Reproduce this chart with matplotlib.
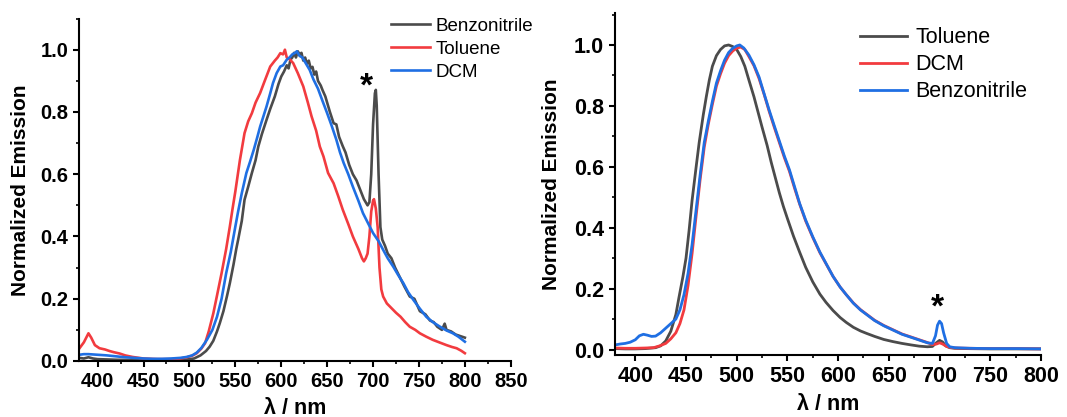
import matplotlib
matplotlib.use("Agg")
import matplotlib.pyplot as plt
from matplotlib.ticker import MultipleLocator

plt.rcParams['font.family'] = ['Liberation Sans', 'DejaVu Sans']

# colours
GRAY = '#4b4b4b'
RED = '#f23b3f'
BLUE = '#1f6fe3'

# ---- left panel data ----
left_benz_x = [380, 385, 390, 395, 400, 410, 420, 440, 460, 480,
               495, 505, 512, 518, 522, 526, 530, 533, 537, 541,
               544, 548, 551, 553, 557, 560, 564, 568, 572, 575,
               579, 584, 588, 593, 597, 600, 603, 606, 608, 610,
               612, 614, 616, 618, 620, 622, 624, 626, 628, 630,
               632, 634, 636, 638, 640, 643, 645, 648, 650, 653,
               657, 660, 663, 667, 670, 674, 678, 682, 686, 690,
               694, 696, 698, 700, 702, 703, 704, 706, 708, 710,
               713, 716, 720, 724, 729, 734, 740, 745, 751, 757,
               762, 766, 770, 775, 778, 780, 785, 790, 795, 800]
left_benz_y = [0.010, 0.008, 0.012, 0.008, 0.006, 0.005, 0.004, 0.003, 0.003, 0.003,
               0.004, 0.008, 0.018, 0.032, 0.046, 0.065, 0.095, 0.121, 0.160, 0.210,
               0.250, 0.310, 0.360, 0.389, 0.450, 0.518, 0.560, 0.604, 0.645, 0.689,
               0.730, 0.775, 0.810, 0.850, 0.890, 0.914, 0.930, 0.950, 0.940, 0.968,
               0.975, 0.990, 0.975, 0.995, 0.985, 0.990, 0.965, 0.975, 0.955, 0.965,
               0.940, 0.945, 0.920, 0.930, 0.900, 0.885, 0.870, 0.850, 0.830, 0.800,
               0.764, 0.760, 0.720, 0.690, 0.670, 0.630, 0.600, 0.580, 0.550, 0.520,
               0.500, 0.510, 0.600, 0.760, 0.860, 0.871, 0.820, 0.600, 0.430, 0.390,
               0.370, 0.345, 0.330, 0.300, 0.270, 0.240, 0.207, 0.200, 0.160, 0.150,
               0.130, 0.125, 0.110, 0.100, 0.120, 0.100, 0.095, 0.085, 0.080, 0.075]

left_tol_x = [380, 385, 390, 393, 397, 402, 408, 413, 418, 424,
              430, 438, 450, 465, 480, 490, 497, 503, 508, 513,
              517, 521, 526, 530, 535, 540, 544, 547, 550, 555,
              560, 564, 568, 572, 577, 582, 588, 593, 596, 599,
              602, 604, 606, 609, 613, 618, 624, 629, 633, 638,
              642, 646, 651, 657, 662, 667, 673, 678, 684, 688,
              690, 692, 694, 696, 698, 700, 701, 703, 705, 707,
              709, 711, 715, 720, 725, 730, 735, 740, 746, 751,
              758, 765, 772, 780, 786, 791, 796, 800]
left_tol_y = [0.040, 0.060, 0.089, 0.075, 0.051, 0.041, 0.037, 0.032, 0.028, 0.024,
              0.018, 0.013, 0.008, 0.006, 0.006, 0.008, 0.012, 0.017, 0.025, 0.040,
              0.057, 0.095, 0.153, 0.210, 0.282, 0.360, 0.432, 0.490, 0.545, 0.646,
              0.732, 0.770, 0.796, 0.830, 0.861, 0.900, 0.946, 0.965, 0.975, 0.989,
              0.985, 1.000, 0.975, 0.970, 0.957, 0.925, 0.882, 0.830, 0.786, 0.740,
              0.689, 0.657, 0.604, 0.571, 0.530, 0.486, 0.440, 0.400, 0.360, 0.330,
              0.320, 0.330, 0.345, 0.400, 0.480, 0.515, 0.520, 0.490, 0.430, 0.300,
              0.230, 0.207, 0.185, 0.170, 0.155, 0.142, 0.125, 0.110, 0.100, 0.089,
              0.078, 0.068, 0.060, 0.051, 0.045, 0.041, 0.033, 0.025]

left_dcm_x = [380, 385, 390, 395, 400, 410, 420, 430, 440, 450,
              460, 470, 480, 490, 497, 503, 508, 513, 519, 525,
              530, 535, 540, 545, 550, 553, 557, 562, 566, 570,
              574, 577, 581, 584, 588, 591, 595, 599, 602, 606,
              609, 612, 615, 617, 620, 623, 627, 631, 635, 640,
              645, 650, 655, 660, 664, 668, 673, 678, 684, 689,
              695, 700, 706, 711, 716, 722, 727, 733, 738, 744,
              751, 758, 765, 773, 780, 787, 793, 800]
left_dcm_y = [0.020, 0.022, 0.022, 0.021, 0.020, 0.018, 0.015, 0.012, 0.010, 0.008,
              0.007, 0.007, 0.008, 0.010, 0.013, 0.018, 0.027, 0.042, 0.068, 0.100,
              0.142, 0.200, 0.282, 0.350, 0.432, 0.480, 0.539, 0.604, 0.640, 0.678,
              0.720, 0.753, 0.790, 0.818, 0.860, 0.893, 0.925, 0.946, 0.950, 0.968,
              0.975, 0.985, 0.990, 0.995, 0.980, 0.975, 0.955, 0.935, 0.905, 0.875,
              0.835, 0.796, 0.755, 0.711, 0.670, 0.636, 0.600, 0.560, 0.515, 0.475,
              0.440, 0.411, 0.385, 0.357, 0.330, 0.303, 0.278, 0.250, 0.222, 0.196,
              0.168, 0.142, 0.125, 0.110, 0.098, 0.089, 0.078, 0.062]

# ---- right panel data ----
right_tol_x = [380, 390, 400, 410, 420, 425, 430, 435, 440, 443,
               447, 450, 453, 456, 460, 463, 467, 470, 473, 476,
               480, 484, 488, 492, 496, 500, 504, 508, 512, 517,
               521, 525, 530, 534, 538, 542, 546, 550, 556, 562,
               568, 575, 582, 588, 595, 602, 608, 615, 622, 628,
               636, 645, 654, 663, 672, 680, 688, 693, 696, 700,
               703, 706, 710, 715, 725, 750, 775, 800]
right_tol_y = [0.003, 0.002, 0.002, 0.003, 0.006, 0.012, 0.028, 0.060, 0.115, 0.170,
               0.240, 0.300, 0.390, 0.490, 0.600, 0.680, 0.770, 0.830, 0.885, 0.930,
               0.965, 0.985, 0.997, 1.000, 0.995, 0.985, 0.962, 0.930, 0.885, 0.830,
               0.780, 0.730, 0.670, 0.615, 0.565, 0.515, 0.470, 0.430, 0.372, 0.320,
               0.270, 0.222, 0.182, 0.155, 0.128, 0.105, 0.089, 0.073, 0.061, 0.053,
               0.043, 0.033, 0.026, 0.020, 0.015, 0.011, 0.009, 0.010, 0.020, 0.030,
               0.025, 0.012, 0.006, 0.004, 0.003, 0.002, 0.002, 0.002]

right_dcm_x = [380, 390, 400, 410, 418, 424, 430, 435, 440, 444,
               448, 452, 456, 460, 464, 468, 472, 476, 480, 484,
               488, 492, 496, 500, 504, 508, 512, 517, 522, 527,
               532, 537, 542, 547, 552, 557, 562, 568, 575, 582,
               588, 595, 602, 608, 615, 622, 628, 636, 645, 654,
               663, 672, 680, 688, 693, 697, 700, 703, 707, 710,
               715, 730, 750, 775, 800]
right_dcm_y = [0.005, 0.004, 0.004, 0.005, 0.006, 0.012, 0.020, 0.035, 0.055, 0.085,
               0.130, 0.210, 0.315, 0.440, 0.560, 0.665, 0.740, 0.805, 0.865, 0.905,
               0.940, 0.965, 0.980, 0.990, 0.993, 0.985, 0.962, 0.932, 0.890, 0.838,
               0.782, 0.730, 0.680, 0.630, 0.585, 0.530, 0.478, 0.422, 0.368, 0.318,
               0.282, 0.240, 0.205, 0.180, 0.153, 0.131, 0.116, 0.096, 0.079, 0.065,
               0.051, 0.041, 0.032, 0.023, 0.016, 0.018, 0.022, 0.018, 0.010, 0.007,
               0.005, 0.004, 0.003, 0.003, 0.002]

right_benz_x = [380, 385, 390, 395, 400, 404, 408, 412, 416, 420,
                425, 430, 435, 440, 444, 448, 452, 456, 460, 464,
                468, 472, 476, 480, 484, 488, 492, 496, 500, 503,
                507, 512, 517, 522, 527, 532, 537, 542, 547, 552,
                557, 562, 568, 575, 582, 588, 595, 602, 608, 615,
                622, 628, 636, 645, 654, 663, 672, 680, 688, 693,
                696, 698, 700, 702, 704, 707, 710, 715, 730, 750,
                775, 800]
right_benz_y = [0.015, 0.018, 0.020, 0.024, 0.032, 0.045, 0.050, 0.047, 0.043, 0.044,
                0.055, 0.070, 0.085, 0.100, 0.130, 0.180, 0.250, 0.345, 0.460, 0.575,
                0.680, 0.750, 0.815, 0.875, 0.915, 0.950, 0.975, 0.989, 0.997, 1.000,
                0.990, 0.967, 0.935, 0.895, 0.840, 0.786, 0.735, 0.685, 0.635, 0.590,
                0.535, 0.480, 0.425, 0.370, 0.320, 0.283, 0.240, 0.205, 0.180, 0.152,
                0.130, 0.115, 0.095, 0.078, 0.064, 0.050, 0.040, 0.031, 0.022, 0.020,
                0.045, 0.080, 0.093, 0.085, 0.055, 0.020, 0.009, 0.006, 0.004, 0.003,
                0.003, 0.002]

left_xticks = [400, 450, 500, 550, 600, 650, 700, 750, 800, 850]
right_xticks = [400, 450, 500, 550, 600, 650, 700, 750, 800]
yticks = [0.0, 0.2, 0.4, 0.6, 0.8, 1.0]


def style_axes(ax, tick_size):
    for side in ['top', 'right']:
        ax.spines[side].set_visible(False)
    for side in ['left', 'bottom']:
        ax.spines[side].set_linewidth(1.5)
    ax.tick_params(which='major', direction='out', length=4, width=1.5,
                   labelsize=tick_size, pad=4)
    ax.tick_params(which='minor', direction='out', length=2.5, width=1.2)
    ax.yaxis.set_minor_locator(MultipleLocator(0.1))
    ax.xaxis.set_minor_locator(MultipleLocator(25))
    ax.set_yticks(yticks)
    ax.set_yticklabels([f'{v:.1f}' for v in yticks])
    for lab in ax.get_xticklabels() + ax.get_yticklabels():
        lab.set_fontweight('bold')


fig = plt.figure(figsize=(10.67, 4.17), dpi=100)

# left panel
ax1 = fig.add_axes([0.0743, 0.1343, 0.4044, 0.8211])
ax1.plot(left_benz_x, left_benz_y, color=GRAY, lw=1.9, label='Benzonitrile')
ax1.plot(left_tol_x, left_tol_y, color=RED, lw=1.9, label='Toluene')
ax1.plot(left_dcm_x, left_dcm_y, color=BLUE, lw=1.9, label='DCM')
ax1.set_xlim(380, 850)
ax1.set_ylim(0, 1.1)
ax1.set_xticks(left_xticks)
style_axes(ax1, 14.5)
ax1.set_xlabel('λ / nm', fontsize=15.5, fontweight='bold', labelpad=5)
ax1.set_ylabel('Normalized Emission', fontsize=15, fontweight='bold', labelpad=7)
ax1.text(693, 0.88, '*', fontsize=24, fontweight='bold', ha='center', va='center')
ax1.legend(loc='upper left', bbox_to_anchor=(0.366, 0.957), bbox_transform=fig.transFigure,
           frameon=False, fontsize=13.5, handlelength=2.1, handletextpad=0.3,
           labelspacing=0.3, borderpad=0, borderaxespad=0)

# right panel
ax2 = fig.add_axes([0.5764, 0.1487, 0.3992, 0.8194])
ax2.plot(right_tol_x, right_tol_y, color=GRAY, lw=2.0, label='Toluene')
ax2.plot(right_dcm_x, right_dcm_y, color=RED, lw=2.0, label='DCM')
ax2.plot(right_benz_x, right_benz_y, color=BLUE, lw=2.0, label='Benzonitrile')
ax2.set_xlim(380, 800)
ax2.set_ylim(-0.018, 1.104)
ax2.set_xticks(right_xticks)
style_axes(ax2, 15.5)
ax2.set_xlabel('λ / nm', fontsize=15.5, fontweight='bold', labelpad=5)
ax2.set_ylabel('Normalized Emission', fontsize=15, fontweight='bold', labelpad=9)
ax2.text(698, 0.135, '*', fontsize=24, fontweight='bold', ha='center', va='center')
ax2.legend(loc='upper left', bbox_to_anchor=(0.806, 0.935), bbox_transform=fig.transFigure,
           frameon=False, fontsize=15.5, handlelength=2.2, handletextpad=0.38,
           labelspacing=0.28, borderpad=0, borderaxespad=0)

fig.savefig('out.png', dpi=100)
